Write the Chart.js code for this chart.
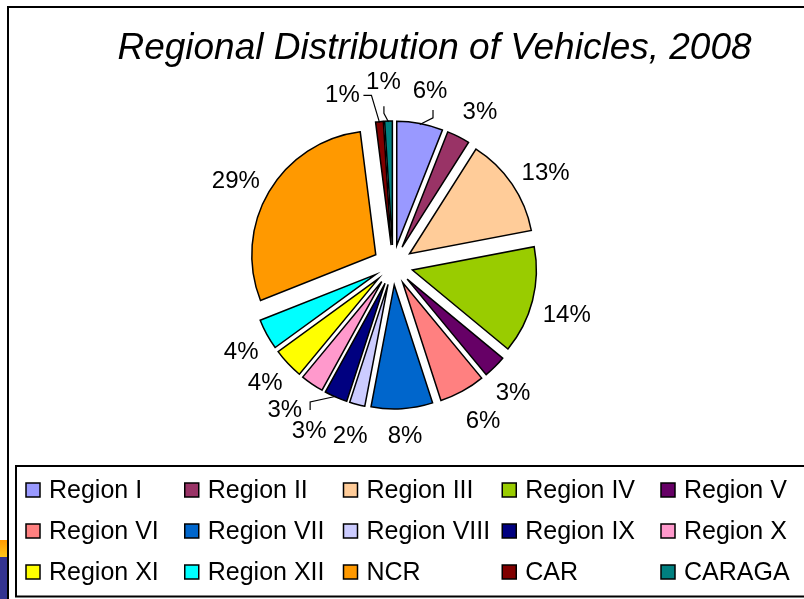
<!DOCTYPE html>
<html>
<head>
<meta charset="utf-8">
<title>Regional Distribution of Vehicles, 2008</title>
<script src="https://cdn.jsdelivr.net/npm/chart.js@4.4.0/dist/chart.umd.min.js"></script>
<style>
  html, body { margin: 0; padding: 0; background: #fff; overflow: hidden; }
  #wrap { position: relative; width: 804px; height: 599px; overflow: hidden; }
  #chart { position: absolute; left: 0; top: 0; }
</style>
</head>
<body>
<div id="wrap"><canvas id="chart" width="804" height="599"></canvas></div>
<script>
const chartTitle = 'Regional Distribution of Vehicles, 2008';
const regions = [
  'Region I', 'Region II', 'Region III', 'Region IV', 'Region V',
  'Region VI', 'Region VII', 'Region VIII', 'Region IX', 'Region X',
  'Region XI', 'Region XII', 'NCR', 'CAR', 'CARAGA',
];
// share of registered vehicles, percent
const shares = [6, 3, 13, 14, 3, 6, 8, 2, 3, 3, 4, 4, 29, 1, 1];

const sliceColors = [
  '#9999ff', '#993366', '#ffcc99', '#99cc00', '#660066',
  '#ff8080', '#0066cc', '#ccccff', '#000080', '#ff99cc',
  '#ffff00', '#00ffff', '#ff9900', '#800000', '#008080',
];

const FONT = "'Liberation Sans', Arial, sans-serif";
const EXPLODE = 20;

// label placement around the pie: [angle nudge in degrees, distance from centre]
const labelPlacement = [
  [1.2, 178], [2.6, 176], [3.2, 178], [1.9, 181], [2, 176],
  [-1.2, 180], [-0.4, 172], [-0.4, 177], [3.4, 186], [2.5, 181],
  [0.5, 174], [-1, 175], [-2.6, 178], [-11.2, 177], [-1.2, 183],
];
// leader lines: [start dx, start dy, elbow dx, elbow dy] relative to the label
const leaders = {
  0: [3, 19, 3, 27],
  8: [1, -21, 1, -29],
  13: [21, 0, 29, 0],
  14: [0.5, 24, 0.5, 31],
};

// draw each slice pulled out from the centre, like an exploded Excel pie
const explodePlugin = {
  id: 'explode',
  beforeDatasetDraw(chart, args) {
    const ctx = chart.ctx;
    args.meta.data.forEach((arc) => {
      const mid = (arc.startAngle + arc.endAngle) / 2;
      ctx.save();
      ctx.translate(Math.cos(mid) * EXPLODE, Math.sin(mid) * EXPLODE);
      arc.draw(ctx);
      ctx.restore();
    });
    return false;
  },
};

const percentLabelPlugin = {
  id: 'percentLabels',
  afterDatasetsDraw(chart) {
    const ctx = chart.ctx;
    const meta = chart.getDatasetMeta(0);
    const values = chart.data.datasets[0].data;
    const total = values.reduce((a, b) => a + b, 0);
    ctx.save();
    ctx.font = '24px ' + FONT;
    ctx.fillStyle = '#000';
    ctx.textAlign = 'center';
    ctx.textBaseline = 'middle';
    ctx.strokeStyle = '#000';
    ctx.lineWidth = 1.2;
    meta.data.forEach((arc, i) => {
      const mid = (arc.startAngle + arc.endAngle) / 2;
      const [nudge, dist] = labelPlacement[i];
      const a = mid + (nudge * Math.PI) / 180;
      const lx = arc.x + Math.cos(a) * dist;
      const ly = arc.y + Math.sin(a) * dist;
      ctx.fillText(Math.round((values[i] / total) * 100) + '%', lx, ly);

      const lead = leaders[i];
      if (lead) {
        const r = arc.outerRadius + EXPLODE - 1;
        ctx.beginPath();
        ctx.moveTo(lx + lead[0], ly + lead[1]);
        ctx.lineTo(lx + lead[2], ly + lead[3]);
        ctx.lineTo(arc.x + Math.cos(mid) * r, arc.y + Math.sin(mid) * r);
        ctx.stroke();
      }
    });
    ctx.restore();
  },
};

// frame, slide leftovers and the title (which sits off-centre from the pie)
const framePlugin = {
  id: 'frame',
  beforeDraw(chart) {
    const ctx = chart.ctx;
    ctx.save();
    const grad = ctx.createLinearGradient(0, 540, 0, 557);
    grad.addColorStop(0, '#ff9900');
    grad.addColorStop(1, '#ffc61a');
    ctx.fillStyle = grad;
    ctx.fillRect(0, 540, 7, 17);
    ctx.fillStyle = '#333391';
    ctx.fillRect(0, 557, 7, 42);

    ctx.strokeStyle = '#000';
    ctx.lineWidth = 2;
    ctx.beginPath();
    ctx.moveTo(8, 599);
    ctx.lineTo(8, 7);
    ctx.lineTo(chart.width, 7);
    ctx.stroke();

    ctx.font = 'italic 37px ' + FONT;
    ctx.fillStyle = '#000';
    ctx.textAlign = 'center';
    ctx.textBaseline = 'alphabetic';
    ctx.fillText(chartTitle, 434.5, 59);
    ctx.restore();
  },
};

const gridLegendPlugin = {
  id: 'gridLegend',
  afterDraw(chart) {
    const ctx = chart.ctx;
    const labels = chart.data.labels;
    const colors = chart.data.datasets[0].backgroundColor;
    ctx.save();
    ctx.strokeStyle = '#000';
    ctx.lineWidth = 2;
    ctx.strokeRect(16, 466, chart.width, 130.5);

    ctx.font = '25px ' + FONT;
    ctx.textAlign = 'left';
    ctx.textBaseline = 'middle';
    labels.forEach((label, i) => {
      const col = i % 5;
      const row = Math.floor(i / 5);
      const x = 26 + col * 158.75;
      const y = 490 + row * 41;
      ctx.fillStyle = colors[i];
      ctx.fillRect(x, y - 7, 14, 14);
      ctx.lineWidth = 1.5;
      ctx.strokeRect(x, y - 7, 14, 14);
      ctx.fillStyle = '#000';
      ctx.fillText(label, x + 23, y + 1);
    });
    ctx.restore();
  },
};

function renderVehicleChart(ctx) {
  return new Chart(ctx, {
    type: 'pie',
    data: {
      labels: regions,
      datasets: [
        {
          data: shares,
          backgroundColor: sliceColors,
          borderColor: '#000',
          borderWidth: 1.5,
          borderJoinStyle: 'miter',
          radius: 124,
          hoverOffset: 0,
        },
      ],
    },
    options: {
      responsive: false,
      animation: false,
      events: [],
      layout: {
        padding: { left: 100, right: 118, top: 115, bottom: 184 },
      },
      plugins: {
        legend: { display: false },
        tooltip: { enabled: false },
        title: { display: false },
      },
    },
    plugins: [framePlugin, explodePlugin, percentLabelPlugin, gridLegendPlugin],
  });
}

renderVehicleChart(document.getElementById('chart'));
</script>
</body>
</html>
